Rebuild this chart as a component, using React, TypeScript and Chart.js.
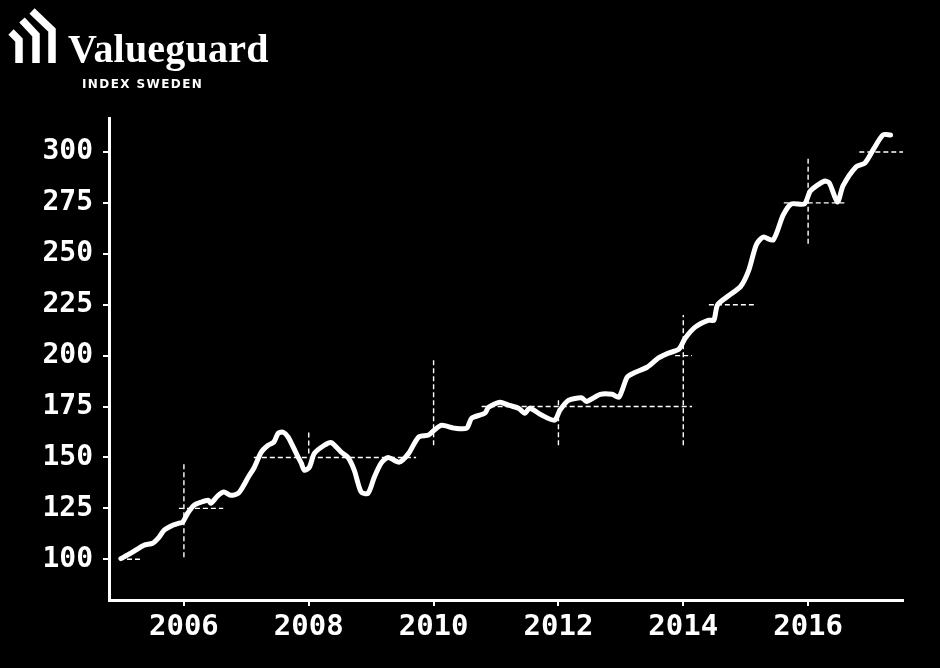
import React, { useEffect, useRef } from "react";
import { Chart, registerables } from "chart.js";

Chart.register(...registerables);

// Valueguard index (decimal year, index value)
const years = [
  2004.99, 2005.15, 2005.36, 2005.5, 2005.6, 2005.68, 2005.82, 2005.92, 2005.98,
  2006.06, 2006.16, 2006.27, 2006.39, 2006.43, 2006.55, 2006.64, 2006.75, 2006.87, 2006.96,
  2007.03, 2007.12, 2007.24, 2007.35, 2007.44, 2007.51, 2007.59, 2007.67, 2007.8, 2007.88, 2007.93,
  2008.01, 2008.09, 2008.25, 2008.36, 2008.52, 2008.63, 2008.73, 2008.84, 2008.95,
  2009.05, 2009.16, 2009.27, 2009.45, 2009.6, 2009.76, 2009.92,
  2010.01, 2010.13, 2010.33, 2010.53, 2010.61, 2010.82, 2010.88,
  2011.06, 2011.2, 2011.36, 2011.46, 2011.54, 2011.73, 2011.94,
  2012.02, 2012.16, 2012.37, 2012.45, 2012.67, 2012.86, 2012.97,
  2013.1, 2013.2, 2013.42, 2013.61, 2013.76, 2013.93,
  2014.03, 2014.19, 2014.41, 2014.49, 2014.55, 2014.73, 2014.92,
  2015.05, 2015.17, 2015.28, 2015.44, 2015.6, 2015.73, 2015.94,
  2016.04, 2016.26, 2016.34, 2016.47, 2016.56, 2016.77, 2016.91,
  2017.05, 2017.2, 2017.32,
];
const indexValues = [
  100.3, 103, 106.9, 107.9, 110.8, 114.2, 116.7, 117.7, 118.2,
  122.6, 126.5, 128, 129, 127.5, 131.4, 133, 131.4, 132.4, 136.4,
  140.3, 144.7, 152.6, 156, 157.5, 161.9, 162.4, 160, 152, 147.2, 143.7,
  145.2, 152, 156, 157.3, 152.6, 150, 143.7, 133, 132.4,
  140.3, 147.2, 150, 147.7, 152, 160, 161,
  163.4, 165.8, 164.4, 164.4, 169.3, 171.7, 174.7,
  177.1, 175.7, 174.2, 171.7, 174.2, 170.8, 168.3,
  173, 178, 179.3, 177.5, 181, 181, 179.6,
  189.4, 191.4, 194.3, 199, 201.2, 203.2,
  208.5, 214, 217.4, 217.4, 225, 229.5, 234,
  242, 254.5, 258.2, 256.8, 269, 274.5, 274.5,
  281, 285.7, 284.8, 275.4, 283.5, 292.8, 294.6,
  301.5, 308.4, 308.4,
];

const yTickValues = [100, 125, 150, 175, 200, 225, 250, 275, 300];
const xTickValues = [2006, 2008, 2010, 2012, 2014, 2016];

// dashed horizontal guide segments: level, from year, to year
const hLevels = [100, 125, 150, 175, 200, 225, 275, 300];
const hFrom = [2004.96, 2005.92, 2007.12, 2010.77, 2013.87, 2014.41, 2015.61, 2016.82];
const hTo = [2005.31, 2006.63, 2009.72, 2014.14, 2014.14, 2015.18, 2016.58, 2017.54];

// dashed vertical guide segments: year, from value, to value
const vYears = [2006, 2008, 2010, 2012, 2014, 2016];
const vFrom = [101, 152, 156, 156, 156, 255];
const vTo = [148, 163, 198, 179, 220, 297];

const FONT = "'DejaVu Sans Mono', monospace";

export default function App() {
  const ref = useRef<HTMLCanvasElement | null>(null);

  useEffect(() => {
    if (!ref.current) return;
    const guide = (pts: { x: number; y: number }[]) => ({
      data: pts,
      borderColor: "#ffffff",
      borderWidth: 1.4,
      borderDash: [5, 3],
      pointRadius: 0,
      fill: false,
      tension: 0,
      order: 2,
    });
    const guides: any[] = [];
    hLevels.forEach((lv, i) =>
      guides.push(guide([{ x: hFrom[i], y: lv }, { x: hTo[i], y: lv }]))
    );
    vYears.forEach((yr, i) =>
      guides.push(guide([{ x: yr, y: vFrom[i] }, { x: yr, y: vTo[i] }]))
    );

    const chart = new Chart(ref.current, {
      type: "line",
      data: {
        datasets: [
          {
            data: years.map((x, i) => ({ x, y: indexValues[i] })),
            borderColor: "#ffffff",
            borderWidth: 5,
            pointRadius: 0,
            tension: 0.25,
            borderJoinStyle: "round",
            borderCapStyle: "round",
            fill: false,
            order: 0,
          },
          ...guides,
        ],
      },
      options: {
        responsive: false,
        animation: false,
        events: [],
        layout: { padding: { top: 118, right: 37, left: 0, bottom: 0 } },
        plugins: { legend: { display: false }, tooltip: { enabled: false }, title: { display: false } },
        scales: {
          x: {
            type: "linear",
            min: 2004.8,
            max: 2017.52,
            afterBuildTicks: (s: any) => {
              s.ticks = xTickValues.map((v) => ({ value: v }));
            },
            afterFit: (s: any) => {
              s.height = 68;
            },
            grid: { drawOnChartArea: false, color: "#ffffff", lineWidth: 2, tickLength: 6 },
            border: { color: "#ffffff", width: 3 },
            ticks: {
              color: "#ffffff",
              padding: 4,
              autoSkip: false,
              maxRotation: 0,
              font: { family: FONT, size: 29, weight: "bold" },
              callback: (v: any) => String(v),
            },
          },
          y: {
            type: "linear",
            min: 80,
            max: 316.7,
            afterBuildTicks: (s: any) => {
              s.ticks = yTickValues.map((v) => ({ value: v }));
            },
            afterFit: (s: any) => {
              s.width = 109;
            },
            grid: { drawOnChartArea: false, color: "#ffffff", lineWidth: 2, tickLength: 6 },
            border: { color: "#ffffff", width: 3 },
            ticks: {
              color: "#ffffff",
              padding: 10,
              autoSkip: false,
              font: { family: FONT, size: 28, weight: "bold" },
              callback: (v: any) => String(v),
            },
          },
        },
      },
    } as any);
    return () => chart.destroy();
  }, []);

  return (
    <div
      style={{
        position: "fixed",
        left: 0,
        top: 0,
        width: 940,
        height: 668,
        background: "#000000",
        overflow: "hidden",
      }}
    >
      <canvas ref={ref} width={940} height={668} style={{ position: "absolute", left: 0, top: 0 }} />
      <svg width={70} height={70} style={{ position: "absolute", left: 0, top: 0 }}>
        <polyline points="11,32 19,40 19,63" fill="none" stroke="#fff" strokeWidth={7.5} strokeLinejoin="miter" />
        <polyline points="22,20 36,35 36,63" fill="none" stroke="#fff" strokeWidth={7.5} strokeLinejoin="miter" />
        <polyline points="32,11 52,30 52,63" fill="none" stroke="#fff" strokeWidth={7.5} strokeLinejoin="miter" />
      </svg>
      <div
        style={{
          position: "absolute",
          left: 68,
          top: 29,
          fontFamily: "'Liberation Serif', serif",
          fontWeight: "bold",
          fontSize: 40,
          lineHeight: 1,
          color: "#ffffff",
          letterSpacing: 0.2,
          whiteSpace: "nowrap",
        }}
      >
        Valueguard
      </div>
      <div
        style={{
          position: "absolute",
          left: 82,
          top: 78,
          fontFamily: "'DejaVu Sans', sans-serif",
          fontWeight: "bold",
          fontSize: 12,
          lineHeight: 1,
          color: "#ffffff",
          letterSpacing: 1.4,
          whiteSpace: "nowrap",
        }}
      >
        INDEX SWEDEN
      </div>
    </div>
  );
}
